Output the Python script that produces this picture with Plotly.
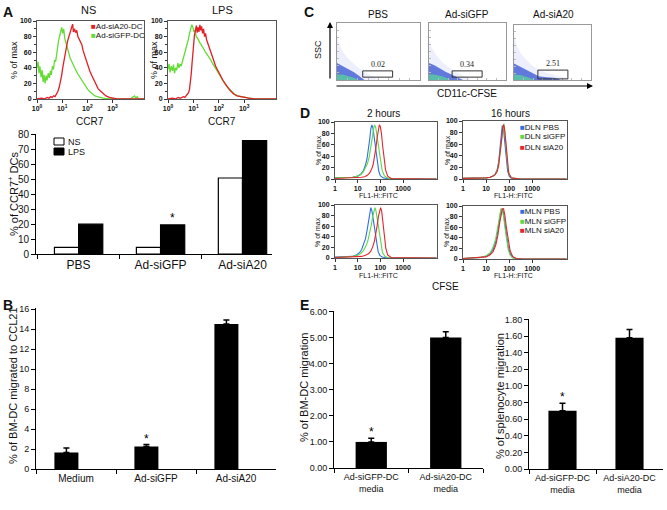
import plotly.graph_objects as go

W, H = 667, 510
FONT = "Liberation Sans, Arial, sans-serif"

# ---------------- A (top): CCR7 histograms, x = CCR7 intensity, y = % of max
ns_gfp_x = [1, 1.1, 1.2, 1.3, 1.45, 1.6, 1.75, 1.9, 2.1, 2.3, 2.5, 2.8, 3.1, 3.4, 3.7, 4.1, 4.5, 5, 5.5, 6,
            6.6, 7.2, 8, 8.8, 9.6, 10.5, 11.5, 12.6, 14, 15.5, 17, 19, 21, 24, 27, 31, 36, 42, 50, 60,
            72, 86, 105, 130, 160, 200, 250, 320, 420, 600, 900, 2000, 5000, 7500, 8500, 9500, 11000, 17800]
ns_gfp_y = [40, 48, 33, 42, 28, 37, 22, 31, 20, 30, 24, 33, 27, 36, 31, 42, 38, 50, 48, 60,
            66, 75, 82, 88, 92, 84, 90, 78, 72, 68, 60, 56, 52, 48, 44, 40, 36, 32, 28, 24,
            19, 16, 12, 9, 6, 4, 3, 2, 1, 0.5, 0, 0, 0, 4, 1, 3, 0, 0]
ns_a20_x = [1, 1.5, 2, 2.5, 3, 3.5, 4, 4.6, 5.2, 6, 6.8, 7.6, 8.5, 9.5, 10.5, 11.5, 12.6, 14, 15.5, 17,
            18.5, 20, 22, 24, 26, 28, 31, 34, 38, 42, 47, 53, 60, 68, 78, 90, 105, 125, 150, 180,
            220, 270, 340, 430, 550, 750, 1100, 1500, 17800]
ns_a20_y = [0, 1, 0, 2, 1, 3, 2, 4, 3, 6, 10, 15, 22, 30, 40, 48, 55, 66, 70, 76,
            80, 84, 88, 92, 96, 86, 90, 85, 88, 80, 77, 72, 70, 62, 56, 50, 42, 36, 30, 24,
            18, 13, 10, 7, 4, 2, 1, 0, 0]
lps_gfp_x = [1, 1.1, 1.2, 1.35, 1.5, 1.65, 1.8, 2, 2.2, 2.45, 2.7, 3, 3.3, 3.7, 4.1, 4.6, 5.1, 5.7, 6.3, 7,
             7.8, 8.6, 9.5, 10.5, 11.5, 13, 14.5, 16, 18, 20, 23, 26, 30, 35, 41, 48, 56, 66, 78, 92,
             110, 130, 155, 185, 220, 270, 330, 420, 550, 750, 1100, 1600, 2500, 17800]
lps_gfp_y = [38, 45, 34, 42, 36, 44, 33, 40, 37, 46, 40, 45, 42, 48, 52, 58, 64, 70, 76, 84,
             90, 95, 92, 86, 88, 80, 78, 74, 72, 70, 66, 64, 60, 57, 54, 50, 46, 42, 38, 34,
             30, 26, 22, 18, 15, 12, 9, 6, 4, 3, 1.5, 1, 0, 0]
lps_a20_x = [1, 1.5, 2, 2.5, 3, 3.5, 4, 4.6, 5.2, 5.8, 6.4, 7, 7.6, 8.2, 8.8, 9.5, 10.2, 11, 12, 13,
             14, 15, 16.5, 18, 19.5, 21, 23, 25, 27.5, 30, 33, 36, 40, 45, 50, 57, 65, 75, 87, 100,
             120, 145, 175, 210, 260, 320, 400, 520, 700, 1000, 1500, 2500, 17800]
lps_a20_y = [0, 1, 0, 2, 1, 2, 3, 2, 4, 5, 8, 12, 20, 32, 45, 60, 72, 82, 88, 94,
             85, 92, 86, 95, 88, 93, 84, 90, 80, 84, 76, 72, 68, 62, 58, 52, 48, 42, 38, 33,
             28, 24, 20, 16, 12, 9, 6, 4, 3, 1.5, 1, 0, 0]
hist_a_ticks = [1, 10, 100, 1000]
hist_a_ticktext = ["10<sup>0</sup>", "10<sup>1</sup>", "10<sup>2</sup>", "10<sup>3</sup>"]

# ---------------- A (bottom): % CCR7+ DCs
groups_a = ["PBS", "Ad-siGFP", "Ad-siA20"]
ccr7_ns = [4.5, 4.5, 51]
ccr7_lps = [20, 19.5, 76]
ccr7_lps_star = [False, True, False]

# ---------------- B: BM-DC migration to CCL21
groups_b = ["Medium", "Ad-siGFP", "Ad-siA20"]
mig_ccl21 = [1.65, 2.25, 14.5]
mig_ccl21_err = [0.45, 0.2, 0.4]
mig_ccl21_star = [False, True, False]

# ---------------- C: CD11c-CFSE vs SSC dot plots (outlines of dot clouds, axis fraction units)
c_titles = ["PBS", "Ad-siGFP", "Ad-siA20"]
c_gate_pct = ["0.02", "0.34", "2.51"]
pbs_cloud_x = [0, 0, 0.03, 0.07, 0.12, 0.18, 0.25, 0.33, 0.42, 0.48, 0.5, 0]
pbs_cloud_y = [0, 0.78, 0.62, 0.5, 0.4, 0.31, 0.22, 0.14, 0.07, 0.03, 0, 0]
pbs_dense_x = [0, 0, 0.06, 0.13, 0.2, 0.26, 0.31, 0.33, 0]
pbs_dense_y = [0, 0.3, 0.25, 0.2, 0.14, 0.08, 0.03, 0, 0]
pbs_teal_x = [0, 0, 0.08, 0.16, 0.22, 0.25, 0]
pbs_teal_y = [0, 0.1, 0.09, 0.06, 0.03, 0, 0]
gfp_cloud_x = [0, 0, 0.03, 0.08, 0.14, 0.2, 0.28, 0.36, 0.45, 0.52, 0.55, 0]
gfp_cloud_y = [0, 0.72, 0.58, 0.46, 0.36, 0.28, 0.2, 0.13, 0.07, 0.03, 0, 0]
gfp_dense_x = [0, 0, 0.07, 0.14, 0.22, 0.3, 0.36, 0.42, 0.44, 0]
gfp_dense_y = [0, 0.3, 0.26, 0.2, 0.14, 0.09, 0.05, 0.02, 0, 0]
gfp_teal_x = [0, 0, 0.08, 0.16, 0.24, 0.28, 0]
gfp_teal_y = [0, 0.1, 0.09, 0.07, 0.03, 0, 0]
a20_cloud_x = [0, 0, 0.04, 0.09, 0.15, 0.22, 0.3, 0.4, 0.5, 0.6, 0.68, 0.72, 0]
a20_cloud_y = [0, 0.82, 0.62, 0.48, 0.38, 0.28, 0.2, 0.14, 0.1, 0.07, 0.04, 0, 0]
a20_dense_x = [0, 0, 0.07, 0.14, 0.2, 0.26, 0.32, 0.42, 0.52, 0.58, 0.6, 0]
a20_dense_y = [0, 0.3, 0.25, 0.2, 0.15, 0.1, 0.07, 0.05, 0.04, 0.02, 0, 0]
a20_teal_x = [0, 0, 0.08, 0.16, 0.22, 0.26, 0]
a20_teal_y = [0, 0.1, 0.09, 0.06, 0.03, 0, 0]
pbs_gate = [0.31, 0.67, 0.05, 0.16]
gfp_gate = [0.30, 0.69, 0.05, 0.16]
a20_gate = [0.31, 0.70, 0.02, 0.18]

# ---------------- D: CFSE histograms (FL1-H::FITC)
tl_blue_x = [1, 3, 6, 10, 14, 18, 22, 26, 30, 34, 38, 42, 47, 53, 60, 70, 85, 100, 130, 250, 30000]
tl_blue_y = [2, 2, 3, 5, 9, 15, 24, 36, 52, 70, 88, 95, 90, 75, 55, 32, 14, 6, 2, 0, 0]
tl_green_x = [1, 3, 6, 10, 14, 18, 22, 27, 32, 38, 44, 50, 56, 63, 72, 85, 100, 120, 150, 200, 400, 30000]
tl_green_y = [2, 2, 3, 5, 8, 13, 19, 27, 38, 54, 72, 88, 95, 90, 74, 50, 30, 15, 6, 2, 0, 0]
tl_red_x = [1, 5, 10, 15, 20, 26, 33, 40, 48, 56, 64, 72, 80, 90, 100, 112, 125, 145, 170, 210, 300, 30000]
tl_red_y = [1, 2, 2, 3, 4, 6, 10, 16, 25, 38, 55, 72, 86, 95, 92, 80, 60, 36, 16, 5, 1, 0]
bl_blue_x = [1, 3, 6, 9, 12, 15, 18, 22, 26, 30, 34, 38, 43, 50, 58, 68, 80, 95, 120, 200, 30000]
bl_blue_y = [2, 2, 3, 6, 10, 16, 24, 36, 52, 70, 86, 95, 88, 70, 48, 26, 12, 5, 2, 0, 0]
bl_green_x = [1, 3, 6, 10, 14, 18, 23, 28, 34, 40, 46, 52, 58, 65, 75, 88, 105, 125, 160, 250, 30000]
bl_green_y = [1, 2, 3, 5, 9, 14, 22, 32, 46, 62, 78, 90, 95, 88, 70, 46, 24, 10, 3, 0, 0]
bl_red_x = [1, 5, 10, 15, 22, 30, 38, 46, 55, 64, 73, 82, 92, 103, 115, 130, 150, 175, 210, 300, 30000]
bl_red_y = [1, 2, 2, 3, 5, 8, 13, 21, 32, 46, 62, 78, 90, 95, 88, 66, 40, 18, 6, 1, 0]
tr_blue_x = [1, 5, 10, 15, 20, 25, 30, 35, 40, 45, 50, 56, 63, 72, 85, 100, 130, 300, 30000]
tr_blue_y = [1, 1, 2, 3, 5, 9, 16, 30, 52, 78, 92, 88, 65, 36, 14, 5, 1, 0, 0]
tr_green_x = [1, 5, 10, 15, 20, 25, 30, 35, 40, 46, 52, 58, 65, 74, 86, 100, 130, 300, 30000]
tr_green_y = [1, 1, 2, 3, 5, 8, 14, 26, 45, 70, 90, 95, 80, 50, 22, 8, 2, 0, 0]
tr_red_x = [1, 5, 10, 15, 20, 25, 30, 35, 40, 46, 52, 58, 64, 72, 82, 95, 120, 300, 30000]
tr_red_y = [1, 1, 2, 3, 5, 8, 13, 24, 42, 66, 88, 94, 84, 58, 28, 10, 2, 0, 0]
br_x = [1, 3, 6, 10, 15, 20, 26, 32, 38, 44, 50, 57, 65, 75, 90, 110, 140, 200, 400, 30000]
br_blue_y = [1, 2, 3, 5, 10, 18, 32, 52, 75, 92, 95, 86, 68, 45, 24, 10, 4, 1, 0, 0]
br_green_y = [1, 2, 3, 6, 12, 22, 38, 60, 82, 95, 92, 80, 60, 38, 18, 7, 2, 0, 0, 0]
br_red_y = [1, 2, 3, 4, 8, 14, 26, 44, 66, 84, 94, 95, 82, 60, 34, 15, 5, 1, 0, 0]
d_ticks = [1, 10, 100, 1000]
dln_names = ["DLN PBS", "DLN siGFP", "DLN siA20"]
mln_names = ["MLN PBS", "MLN siGFP", "MLN siA20"]

# ---------------- E: migration toward conditioned media
groups_e = ["Ad-siGFP-DC<br>media", "Ad-siA20-DC<br>media"]
bmdc_mig = [1.0, 5.0]
bmdc_mig_err = [0.14, 0.22]
spleno_mig = [0.70, 1.58]
spleno_mig_err = [0.09, 0.10]
e_star = [True, False]

RED, GREEN = "#e31e24", "#62dc34"
D_BLUE, D_GREEN, D_RED = "#2f6fe4", "#5cd84a", "#e3262b"


def xd(a, b):
    return [a / W, b / W]


def yd(top, bot):
    return [1 - bot / H, 1 - top / H]


layout = {}


def set_axes(n, xdom, ydom, xopt, yopt):
    s = "" if n == 1 else str(n)
    layout["xaxis" + s] = dict(domain=xdom, anchor="y" + s, showgrid=False, zeroline=False,
                               automargin=False, **xopt)
    layout["yaxis" + s] = dict(domain=ydom, anchor="x" + s, showgrid=False, zeroline=False,
                               automargin=False, **yopt)


def refs(n):
    s = "" if n == 1 else str(n)
    return dict(xaxis="x" + s, yaxis="y" + s)


fig = go.Figure()


def add_line(n, x, y, color, width=1.3):
    fig.add_trace(go.Scatter(x=x, y=y, mode="lines", line=dict(color=color, width=width),
                             showlegend=False, hoverinfo="skip", **refs(n)))


tiny = dict(size=7, family=FONT, color="#111", weight="bold")
hist_box = dict(showline=True, linecolor="#555", linewidth=1, mirror=True,
                ticks="outside", ticklen=3, tickcolor="#333")

# A histograms
for n, (x0, x1) in zip([1, 2], [(37, 144), (168, 276)]):
    set_axes(n, xd(x0, x1), yd(21, 99),
             dict(type="log", range=[0, 4.25], tickvals=hist_a_ticks, ticktext=hist_a_ticktext,
                  tickfont=tiny, **hist_box),
             dict(range=[0, 100], dtick=20, tickfont=tiny,
                  minor=dict(ticks="outside", ticklen=2, dtick=10, tickcolor="#333"), **hist_box))
add_line(1, ns_gfp_x, ns_gfp_y, GREEN)
add_line(1, ns_a20_x, ns_a20_y, RED)
add_line(2, lps_gfp_x, lps_gfp_y, GREEN)
add_line(2, lps_a20_x, lps_a20_y, RED)

# A bars
bar_axis = dict(showline=True, linecolor="black", linewidth=1, ticks="outside", ticklen=4, tickcolor="black")
set_axes(3, xd(36, 272), yd(134, 254),
         dict(range=[-0.52, 2.36], tickson="boundaries", tickfont=dict(size=12, family=FONT, color="#111"), **bar_axis),
         dict(range=[0, 80.5], dtick=10, tickfont=dict(size=10, family=FONT, color="#111"), **bar_axis))
fig.add_trace(go.Bar(x=groups_a, y=ccr7_ns, name="NS", marker=dict(color="white", line=dict(color="black", width=1.2)),
                     showlegend=False, hoverinfo="skip", **refs(3)))
fig.add_trace(go.Bar(x=groups_a, y=ccr7_lps, name="LPS", marker=dict(color="black", line=dict(color="black", width=1.2)),
                     showlegend=False, hoverinfo="skip", **refs(3)))

# B bars
set_axes(4, xd(36, 276), yd(308, 469),
         dict(range=[-0.5, 2.5], tickson="boundaries", tickfont=dict(size=10, family=FONT, color="#111"), **bar_axis),
         dict(range=[0, 16.1], dtick=2, tickfont=dict(size=9, family=FONT, color="#111"), **bar_axis))
fig.add_trace(go.Bar(x=groups_b, y=mig_ccl21, width=0.3, offset=-0.27, marker=dict(color="black"),
                     error_y=dict(type="data", symmetric=False, array=mig_ccl21_err, arrayminus=[0] * 3,
                                  color="black", thickness=1.5, width=3),
                     showlegend=False, hoverinfo="skip", **refs(4)))

# C dot plots
c_box = dict(range=[0, 1], showline=True, linecolor="#999", linewidth=1, mirror=True, showticklabels=False,
             ticks="inside", ticklen=2, tickcolor="#bbb", dtick=0.125)
c_shapes = [
    (5, (337, 420), (23, 80), pbs_cloud_x, pbs_cloud_y, pbs_dense_x, pbs_dense_y, pbs_teal_x, pbs_teal_y, pbs_gate),
    (6, (429, 506), (23, 80), gfp_cloud_x, gfp_cloud_y, gfp_dense_x, gfp_dense_y, gfp_teal_x, gfp_teal_y, gfp_gate),
    (7, (514, 591), (25, 80), a20_cloud_x, a20_cloud_y, a20_dense_x, a20_dense_y, a20_teal_x, a20_teal_y, a20_gate),
]
shapes = []
annotations = []
for i, (n, (x0, x1), (y0, y1), cx, cy, dx, dy, tx, ty, gate) in enumerate(c_shapes):
    set_axes(n, xd(x0, x1), yd(y0, y1), dict(c_box), dict(c_box))
    for px, py, fill in [(cx, cy, "rgba(140,155,235,0.16)"), (dx, dy, "rgba(50,80,210,0.75)"),
                         (tx, ty, "rgba(90,195,165,0.9)")]:
        fig.add_trace(go.Scatter(x=px, y=py, mode="lines", fill="toself", fillcolor=fill,
                                 line=dict(width=0), showlegend=False, hoverinfo="skip", **refs(n)))
    s = str(n)
    shapes.append(dict(type="rect", xref="x" + s, yref="y" + s, x0=gate[0], x1=gate[1], y0=gate[2], y1=gate[3],
                       line=dict(color="#333", width=1)))
    annotations.append(dict(x=(gate[0] + gate[1]) / 2, y=gate[3], xref="x" + s, yref="y" + s, yanchor="bottom",
                            text=c_gate_pct[i], showarrow=False,
                            font=dict(size=8, family="Liberation Serif, serif", color="#222")))

# D histograms
d_x = dict(type="log", range=[0, 4.5], tickvals=d_ticks, ticktext=[str(t) for t in d_ticks], tickfont=tiny, **hist_box)
d_y = dict(range=[0, 100], dtick=20, tickfont=tiny, **hist_box)
set_axes(8, xd(335, 437), yd(122, 179), dict(d_x), dict(d_y))
set_axes(9, xd(463, 567), yd(121, 179), dict(d_x), dict(d_y))
set_axes(10, xd(335, 437), yd(205, 258), dict(d_x), dict(d_y))
set_axes(11, xd(463, 567), yd(206, 259), dict(d_x), dict(d_y))
for n, curves in [(8, [(tl_blue_x, tl_blue_y), (tl_green_x, tl_green_y), (tl_red_x, tl_red_y)]),
                  (9, [(tr_blue_x, tr_blue_y), (tr_green_x, tr_green_y), (tr_red_x, tr_red_y)]),
                  (10, [(bl_blue_x, bl_blue_y), (bl_green_x, bl_green_y), (bl_red_x, bl_red_y)]),
                  (11, [(br_x, br_blue_y), (br_x, br_green_y), (br_x, br_red_y)])]:
    for (cx, cy), col in zip(curves, [D_BLUE, D_GREEN, D_RED]):
        add_line(n, cx, cy, col, 1.1)

# E bars
set_axes(12, xd(334, 483), yd(311, 468),
         dict(range=[-0.5, 1.5], tickson="boundaries", tickfont=dict(size=9, family=FONT, color="#111"), **bar_axis),
         dict(range=[0, 6.02], dtick=1, tickformat=".2f", tickfont=dict(size=9, family=FONT, color="#111"), **bar_axis))
set_axes(13, xd(529, 663), yd(319, 469),
         dict(range=[-0.5, 1.5], tickson="boundaries", tickfont=dict(size=9, family=FONT, color="#111"), **bar_axis),
         dict(range=[0, 1.805], dtick=0.2, tickformat=".2f", tickfont=dict(size=9, family=FONT, color="#111"), **bar_axis))
for n, vals, errs in [(12, bmdc_mig, bmdc_mig_err), (13, spleno_mig, spleno_mig_err)]:
    fig.add_trace(go.Bar(x=groups_e, y=vals, width=0.42, marker=dict(color="black"),
                         error_y=dict(type="data", symmetric=False, array=errs, arrayminus=[0] * 2,
                                      color="black", thickness=1.5, width=3),
                         showlegend=False, hoverinfo="skip", **refs(n)))


# ---------------- text
def txt(text, px, py, size, angle=0, bold=False, xanchor="center", family=FONT, color="#111"):
    annotations.append(dict(x=px / W, y=1 - py / H, xref="paper", yref="paper", text=text, showarrow=False,
                            textangle=angle, xanchor=xanchor, yanchor="middle",
                            font=dict(size=size, family=family, color=color, weight="bold" if bold else "normal")))


for letter, px, py in [("A", 8, 12), ("B", 8, 305), ("C", 309, 12), ("D", 305, 113), ("E", 304, 305)]:
    txt(letter, px, py, 14, bold=True)

txt("NS", 88, 10, 11)
txt("LPS", 222, 10, 11)
txt("CCR7", 90, 121, 10)
txt("CCR7", 222, 121, 10)
txt("% of max", 14, 60, 9, angle=-90)
txt("% of max", 154, 60, 9, angle=-90)
txt('<span style="color:%s">■</span>Ad-siA20-DC' % RED, 89, 26, 8, xanchor="left")
txt('<span style="color:%s">■</span>Ad-siGFP-DC' % GREEN, 89, 36, 8, xanchor="left")
txt("% of CCR7<sup>+</sup> DCs", 13, 194, 11, angle=-90)
txt("% of BM-DC migrated to CCL21", 13, 386, 11, angle=-90)

# A bar legend
for (top, fillc, label) in [(138, "white", "NS"), (148, "black", "LPS")]:
    shapes.append(dict(type="rect", xref="paper", yref="paper", x0=54 / W, x1=64 / W,
                       y0=1 - (top + 7) / H, y1=1 - top / H, fillcolor=fillc, line=dict(color="black", width=1)))
    txt(label, 66, top + 3.5, 9, xanchor="left")

for t, px in zip(c_titles, [378, 467, 553]):
    txt(t, px, 14, 10)
txt("SSC", 318, 50, 9, angle=-90)
txt("CD11c-CFSE", 467, 93, 10)
annotations.append(dict(x=330 / W, y=1 - 22 / H, xref="paper", yref="paper", ax=0, ay=58, text="",
                        showarrow=True, arrowhead=2, arrowsize=1, arrowwidth=1.2, arrowcolor="black"))
annotations.append(dict(x=593 / W, y=1 - 86 / H, xref="paper", yref="paper", ax=-258, ay=0, text="",
                        showarrow=True, arrowhead=2, arrowsize=1, arrowwidth=1.2, arrowcolor="black"))

txt("2 hours", 383, 114, 10)
txt("16 hours", 510, 114, 10)
for px, py in [(318, 150), (447, 150), (318, 232), (447, 232)]:
    txt("% of max", px, py, 7, angle=-90)
for px, py in [(378, 195), (513, 195), (378, 275), (513, 275)]:
    txt("FL1-H::FITC", px, py, 7)
for i, (name, col) in enumerate(zip(dln_names, [D_BLUE, D_GREEN, D_RED])):
    txt('<span style="color:%s">■</span>%s' % (col, name), 518, 127 + 10 * i, 8, xanchor="left")
for i, (name, col) in enumerate(zip(mln_names, [D_BLUE, D_GREEN, D_RED])):
    txt('<span style="color:%s">■</span>%s' % (col, name), 518, 211 + 10 * i, 8, xanchor="left")
txt("CFSE", 445, 286, 10)

txt("% of BM-DC migration", 304, 388, 11, angle=-90)
txt("% of splenocyte migration", 500, 396, 11, angle=-90)

# significance stars
star = dict(text="*", showarrow=False, yanchor="bottom", font=dict(size=12, family=FONT, color="black"))
for i, flag in enumerate(ccr7_lps_star):
    if flag:
        annotations.append(dict(x=i + 0.1475, y=ccr7_lps[i], xref="x3", yref="y3", yshift=-2, **star))
for i, flag in enumerate(mig_ccl21_star):
    if flag:
        annotations.append(dict(x=i - 0.12, y=mig_ccl21[i] + mig_ccl21_err[i], xref="x4", yref="y4", yshift=-3, **star))
for n, vals, errs in [(12, bmdc_mig, bmdc_mig_err), (13, spleno_mig, spleno_mig_err)]:
    for i, flag in enumerate(e_star):
        if flag:
            annotations.append(dict(x=i, y=vals[i] + errs[i], xref="x%d" % n, yref="y%d" % n, yshift=-3, **star))

fig.update_layout(
    template="none",
    width=W, height=H, margin=dict(l=0, r=0, t=0, b=0, autoexpand=False),
    paper_bgcolor="white", plot_bgcolor="white",
    font=dict(family=FONT, color="#111"),
    barmode="group", bargap=0.41, bargroupgap=0,
    showlegend=False,
    shapes=shapes, annotations=annotations,
    **layout,
)

# the page body has a default 8px margin; remove it so the figure sits at the window's corner
fig.write_html("out.html", config={"displayModeBar": False},
               post_script="document.body.style.margin='0px';")
